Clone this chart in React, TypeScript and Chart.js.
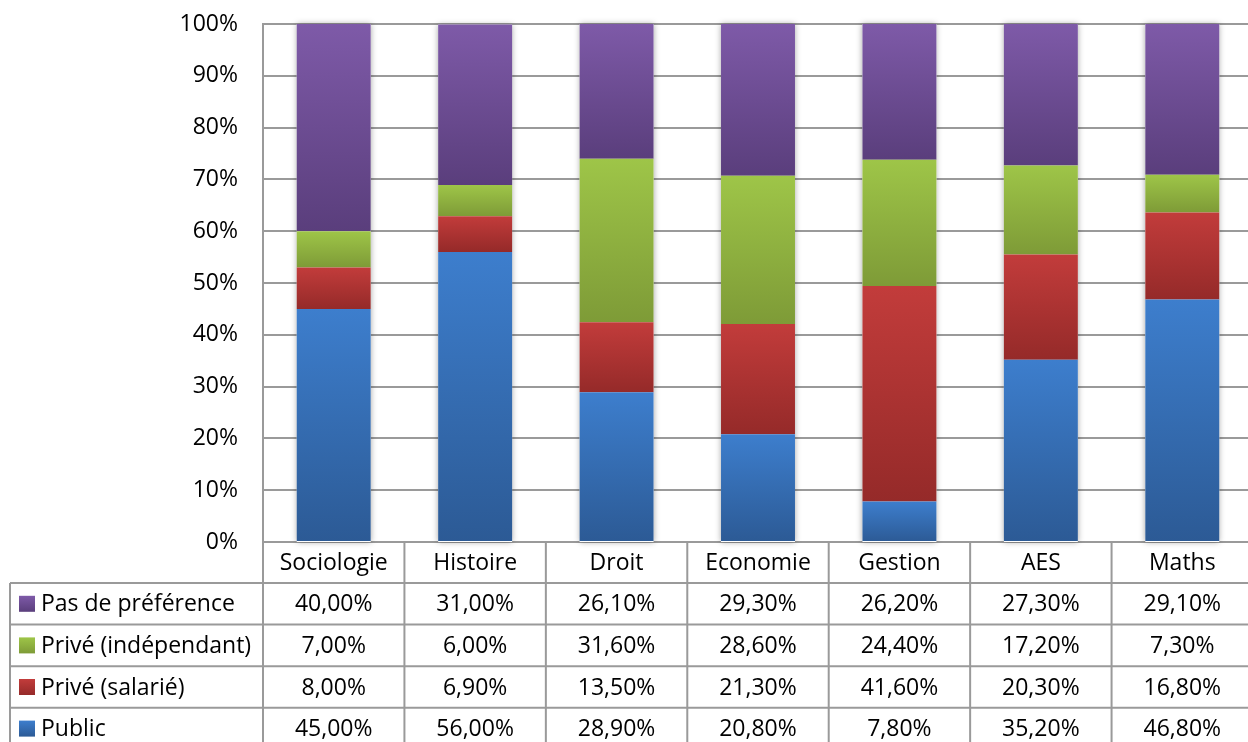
import React, { useEffect, useRef } from "react";
import { Chart, registerables } from "chart.js";

Chart.register(...registerables);

const categories = ["Sociologie", "Histoire", "Droit", "Economie", "Gestion", "AES", "Maths"];
const publicValues = [45.0, 56.0, 28.9, 20.8, 7.8, 35.2, 46.8];
const priveSalarieValues = [8.0, 6.9, 13.5, 21.3, 41.6, 20.3, 16.8];
const priveIndependantValues = [7.0, 6.0, 31.6, 28.6, 24.4, 17.2, 7.3];
const pasDePreferenceValues = [40.0, 31.0, 26.1, 29.3, 26.2, 27.3, 29.1];
const seriesNames = ["Public", "Privé (salarié)", "Privé (indépendant)", "Pas de préférence"];
const yTickStep = 10;
const yMax = 100;

const seriesValues = [publicValues, priveSalarieValues, priveIndependantValues, pasDePreferenceValues];
const gradientStops: [string, string][] = [
  ["#3D7ECD", "#2C5A95"],
  ["#C23C3B", "#952A29"],
  ["#9EC548", "#7E9B37"],
  ["#7E5AA8", "#5A3E7C"],
];

const FONT = "'Open Sans', 'DejaVu Sans', sans-serif";
const FONT_SIZE = 23;
const GRID = "#9a9a9a";

function fmt(v: number) {
  return v.toFixed(2).replace(".", ",") + "%";
}

function makeBg(di: number) {
  return (c: any) => {
    const chart = c.chart;
    const y = chart.scales && chart.scales.y;
    if (!chart.chartArea || !y || c.type !== "data") return gradientStops[di][0];
    const i = c.dataIndex;
    let start = 0;
    for (let k = 0; k < di; k++) start += chart.data.datasets[k].data[i];
    const end = start + chart.data.datasets[di].data[i];
    const yTop = y.getPixelForValue(Math.min(end, yMax));
    const yBot = y.getPixelForValue(start);
    if (!isFinite(yTop) || !isFinite(yBot) || yTop === yBot) return gradientStops[di][0];
    const g = chart.ctx.createLinearGradient(0, yTop, 0, yBot);
    g.addColorStop(0, gradientStops[di][0]);
    g.addColorStop(1, gradientStops[di][1]);
    return g;
  };
}

const shadowPlugin = {
  id: "barShadow",
  beforeDatasetsDraw(chart: any) {
    const { ctx } = chart;
    const y = chart.scales.y;
    const meta = chart.getDatasetMeta(0);
    ctx.save();
    ctx.shadowColor = "rgba(0,0,0,0.35)";
    ctx.shadowBlur = 6;
    ctx.fillStyle = "#ffffff";
    meta.data.forEach((el: any, i: number) => {
      let total = 0;
      chart.data.datasets.forEach((d: any) => (total += d.data[i]));
      const top = y.getPixelForValue(Math.min(total, yMax));
      const bot = y.getPixelForValue(0);
      ctx.fillRect(el.x - el.width / 2, top, el.width, bot - top);
    });
    ctx.restore();
  },
};

const tablePlugin = {
  id: "dataTable",
  afterDraw(chart: any) {
    const { ctx, chartArea } = chart;
    const left = chartArea.left;
    const right = chartArea.right;
    const top = chartArea.bottom;
    const n = categories.length;
    const colW = (right - left) / n;
    const headerH = 41;
    const rowH = 41.6;
    const legendLeft = 10;
    const rowOrder = [3, 2, 1, 0];
    const tableBottom = top + headerH + rowH * rowOrder.length;

    ctx.save();
    ctx.strokeStyle = GRID;
    ctx.lineWidth = 2;
    ctx.beginPath();
    for (let k = 0; k <= n; k++) {
      const x = left + k * colW;
      ctx.moveTo(x, top);
      ctx.lineTo(x, tableBottom);
    }
    ctx.moveTo(legendLeft, top + headerH);
    ctx.lineTo(legendLeft, tableBottom);
    for (let r = 0; r <= rowOrder.length; r++) {
      const yy = top + headerH + r * rowH;
      ctx.moveTo(legendLeft, yy);
      ctx.lineTo(right, yy);
    }
    ctx.stroke();

    ctx.fillStyle = "#000";
    ctx.font = `${FONT_SIZE}px ${FONT}`;
    ctx.textBaseline = "middle";
    ctx.textAlign = "center";
    categories.forEach((cat, i) => {
      ctx.fillText(cat, left + colW * (i + 0.5), top + headerH / 2 + 1);
    });

    rowOrder.forEach((si, r) => {
      const cy = top + headerH + rowH * (r + 0.5);
      const g = ctx.createLinearGradient(0, cy - 8, 0, cy + 8);
      g.addColorStop(0, gradientStops[si][0]);
      g.addColorStop(1, gradientStops[si][1]);
      ctx.fillStyle = g;
      ctx.fillRect(19, cy - 8, 16, 16);
      ctx.fillStyle = "#000";
      ctx.textAlign = "left";
      ctx.fillText(seriesNames[si], 41, cy + 1);
      ctx.textAlign = "center";
      seriesValues[si].forEach((v, i) => {
        ctx.fillText(fmt(v), left + colW * (i + 0.5), cy + 1);
      });
    });
    ctx.restore();
  },
};

export default function App() {
  const ref = useRef<HTMLCanvasElement | null>(null);

  useEffect(() => {
    if (!ref.current) return;
    const chart = new Chart(ref.current, {
      type: "bar",
      data: {
        labels: categories,
        datasets: seriesValues.map((vals, di) => ({
          label: seriesNames[di],
          data: vals,
          backgroundColor: makeBg(di),
          borderWidth: 0,
          barPercentage: 0.523,
          categoryPercentage: 1,
        })),
      },
      options: {
        responsive: false,
        animation: false,
        devicePixelRatio: 1,
        layout: { padding: { left: 0, top: 24, right: 3, bottom: 760 - 542 } },
        plugins: {
          legend: { display: false },
          tooltip: { enabled: false },
          title: { display: false },
        },
        scales: {
          x: {
            stacked: true,
            display: false,
          },
          y: {
            stacked: true,
            min: 0,
            max: yMax,
            afterFit: (s: any) => {
              s.width = 263;
              s.paddingTop = 0;
              s.paddingBottom = 0;
            },
            ticks: {
              stepSize: yTickStep,
              padding: 25,
              color: "#000",
              font: { family: FONT, size: FONT_SIZE },
              callback: (v: any) => v + "%",
            },
            grid: {
              color: GRID,
              lineWidth: 2,
              drawTicks: false,
            },
            border: { display: true, color: GRID, width: 2 },
          },
        },
      },
      plugins: [shadowPlugin, tablePlugin],
    });
    return () => chart.destroy();
  }, []);

  return (
    <div
      style={{
        position: "fixed",
        left: 0,
        top: 0,
        width: 1248,
        height: 742,
        overflow: "hidden",
        background: "#fff",
      }}
    >
      <canvas ref={ref} width={1256} height={760} style={{ display: "block", width: 1256, height: 760 }} />
    </div>
  );
}
